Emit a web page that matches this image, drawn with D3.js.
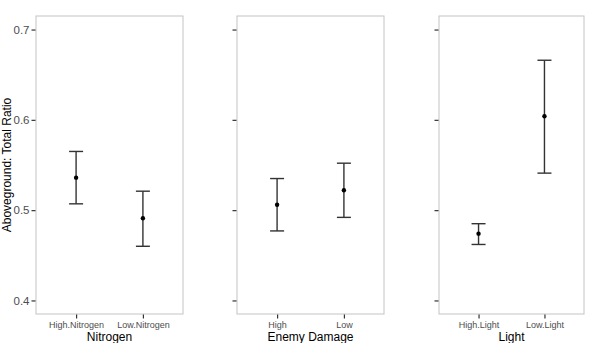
<!DOCTYPE html>
<html>
<head>
<meta charset="utf-8">
<script src="https://cdn.jsdelivr.net/npm/d3@7"></script>
<style>
    body { margin: 0; background: #fff; }
    text { font-family: "Liberation Sans", Arial, sans-serif; }
</style>
</head>
<body>
<div class="chart"></div>
<script>
// one panel per factor
const groups = ["Nitrogen", "Enemy Damage", "Light"];
const categories = [
    ["High.Nitrogen", "Low.Nitrogen"],
    ["High", "Low"],
    ["High.Light", "Low.Light"]
];
const means = [[0.536, 0.491], [0.506, 0.522], [0.474, 0.604]];
const lower = [[0.507, 0.460], [0.477, 0.492], [0.462, 0.541]];
const upper = [[0.565, 0.521], [0.535, 0.552], [0.485, 0.666]];
const yTicks = [0.4, 0.5, 0.6, 0.7];

const width = 591;
const height = 343;

const svg = d3.select('.chart').append('svg')
    .attr('width', width)
    .attr('height', height)
    .attr('viewBox', [0, 0, width, height]);

// panel left/right edges
const panelX = [[36, 183], [237, 384], [439, 584]];
const plotTop = 16, plotBottom = 314;

const y = d3.scaleLinear()
    .domain([0.385, 0.715])
    .range([plotBottom, plotTop]);

groups.forEach((g, i) => {
    const [x0, x1] = panelX[i];
    const x = d3.scalePoint()
        .domain(categories[i])
        .range([x0, x1])
        .padding(0.6);   // ggplot discrete expansion of 0.6

    const panel = svg.append('g');

    panel.append('rect')
        .attr('x', x0)
        .attr('y', plotTop)
        .attr('width', x1 - x0)
        .attr('height', plotBottom - plotTop)
        .style('fill', '#fff')
        .style('stroke', '#c4c4c4')
        .style('stroke-width', 1);

    // y axis: ticks everywhere, labels only on the first panel
    const yAxis = d3.axisLeft(y)
        .tickValues(yTicks)
        .tickSize(4)
        .tickPadding(2)
        .tickFormat(i === 0 ? d3.format('.1f') : '');
    const ya = panel.append('g')
        .attr('transform', `translate(${x0 - 0.5},0)`)
        .call(yAxis);
    ya.select('.domain').remove();
    ya.selectAll('.tick line').style('stroke', '#333').style('stroke-width', 1.2);
    ya.selectAll('.tick text')
        .style('font-size', '11.5px')
        .style('fill', '#4d4d4d');

    const xAxis = d3.axisBottom(x)
        .tickSize(4)
        .tickPadding(3);
    const xa = panel.append('g')
        .attr('transform', `translate(0,${plotBottom + 0.5})`)
        .call(xAxis);
    xa.select('.domain').remove();
    xa.selectAll('.tick line').style('stroke', '#333').style('stroke-width', 1.2);
    xa.selectAll('.tick text')
        .style('font-size', '9px')
        .style('fill', '#4d4d4d');

    panel.append('text')
        .attr('x', (x0 + x1) / 2)
        .attr('y', 341)
        .attr('text-anchor', 'middle')
        .style('font-size', '12px')
        .style('fill', '#000')
        .text(g);

    const rows = categories[i].map((c, j) => ({
        cat: c, mean: means[i][j], lo: lower[i][j], hi: upper[i][j]
    }));
    const capW = 7;

    const bars = panel.selectAll('.bar')
        .data(rows)
        .enter()
        .append('g')
        .attr('class', 'bar');

    bars.append('line')
        .attr('x1', d => x(d.cat)).attr('x2', d => x(d.cat))
        .attr('y1', d => y(d.lo)).attr('y2', d => y(d.hi));
    bars.append('line')
        .attr('x1', d => x(d.cat) - capW).attr('x2', d => x(d.cat) + capW)
        .attr('y1', d => y(d.hi)).attr('y2', d => y(d.hi));
    bars.append('line')
        .attr('x1', d => x(d.cat) - capW).attr('x2', d => x(d.cat) + capW)
        .attr('y1', d => y(d.lo)).attr('y2', d => y(d.lo));
    bars.selectAll('line')
        .style('stroke', '#333')
        .style('stroke-width', 1.4);

    bars.append('circle')
        .attr('cx', d => x(d.cat))
        .attr('cy', d => y(d.mean))
        .attr('r', 2.2)
        .style('fill', '#000');
});

svg.append('text')
    .attr('transform', `translate(11,${(plotTop + plotBottom) / 2}) rotate(-90)`)
    .attr('text-anchor', 'middle')
    .style('font-size', '12px')
    .style('fill', '#000')
    .text('Aboveground: Total Ratio');
</script>
</body>
</html>
